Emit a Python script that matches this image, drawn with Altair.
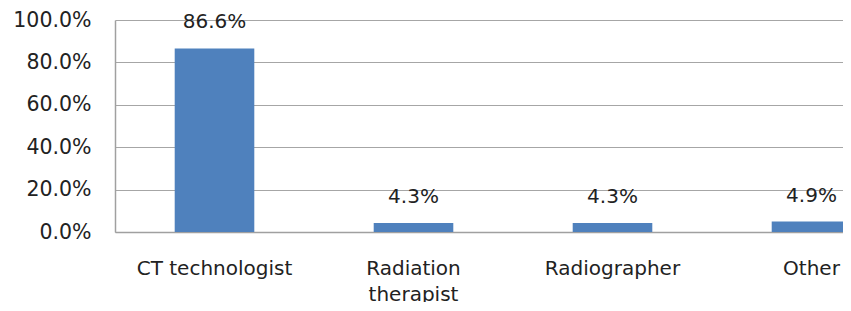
import altair as alt
import pandas as pd

categories = ["CT technologist", "Radiation therapist", "Radiographer", "Other"]
values = [86.6, 4.3, 4.3, 4.9]
labels = ["86.6%", "4.3%", "4.3%", "4.9%"]

df = pd.DataFrame({"cat": categories, "val": values, "lab": labels})

FONT = "DejaVu Sans"
TXT = "#222222"

xscale = alt.Scale(domain=categories, range=[0, 796], paddingInner=0.6, paddingOuter=0.3)
yscale = alt.Scale(domain=[0, 100])

base = alt.Chart(df)

bars = base.mark_bar(color="#4F81BD", clip=True).encode(
    x=alt.X("cat:N", scale=xscale, sort=categories,
            axis=alt.Axis(title=None, ticks=False, grid=False, labelAngle=0,
                          labelFont=FONT, labelFontSize=20, labelColor=TXT,
                          labelPadding=26, labelLineHeight=26, labelBaseline="top",
                          domainColor="#a0a0a0", domainWidth=1.5, labelOverlap=False,
                          labelExpr="datum.label == 'Radiation therapist' ? ['Radiation', 'therapist'] : datum.label")),
    y=alt.Y("val:Q", scale=yscale,
            axis=alt.Axis(title=None, values=[0, 20, 40, 60, 80, 100], ticks=False,
                          labelExpr="format(datum.value, '.1f') + '%'",
                          labelFont=FONT, labelFontSize=20.5, labelColor=TXT, labelPadding=24,
                          gridColor="#a6a6a6", gridWidth=1.2, domainColor="#a0a0a0", domainWidth=1.5)),
)

text = base.mark_text(font=FONT, fontSize=20, color=TXT, baseline="bottom", dy=-16, clip=False).encode(
    x=alt.X("cat:N", scale=xscale, sort=categories),
    y=alt.Y("val:Q", scale=yscale),
    text="lab:N",
)

chart = (bars + text).properties(
    width=728, height=212,
    autosize=alt.AutoSizeParams(type="none"),
    padding={"left": 107, "top": 12, "right": 0, "bottom": 70},
).configure_view(strokeWidth=0)

chart.save("out.html", embed_options={"renderer": "svg", "actions": False})
